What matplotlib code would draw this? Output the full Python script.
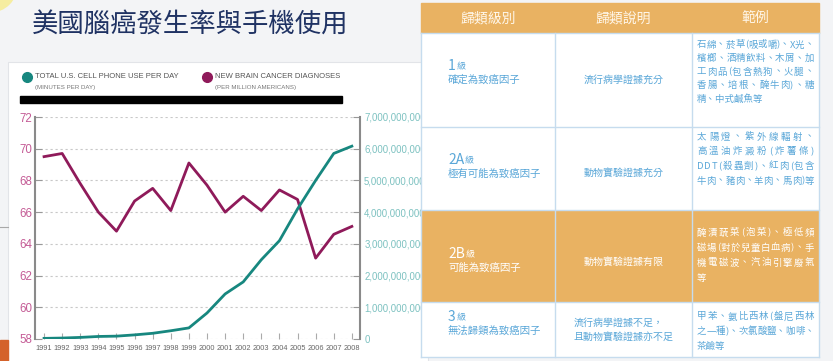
import matplotlib
matplotlib.use('Agg')
import matplotlib.pyplot as plt
from matplotlib.patches import Rectangle, Circle

CJK = ['Noto Sans CJK TC', 'DejaVu Sans']
NARROW = ['Liberation Sans Narrow', 'Liberation Sans', 'DejaVu Sans']
plt.rcParams['font.family'] = CJK

# =============================================================================
# data
# =============================================================================
title = '美國腦癌發生率與手機使用'
years = list(range(1991, 2009))
brain_cancer = [69.5, 69.7, 67.8, 66.0, 64.8, 66.7, 67.5, 66.1, 69.1, 67.7,
                66.0, 67.0, 66.1, 67.4, 66.8, 63.1, 64.6, 65.1]
phone_use = [0.02e9, 0.03e9, 0.05e9, 0.08e9, 0.09e9, 0.13e9, 0.18e9, 0.26e9, 0.35e9,
             0.82e9, 1.42e9, 1.80e9, 2.50e9, 3.10e9, 4.10e9, 5.00e9, 5.85e9, 6.08e9]
left_ticks = [58, 60, 62, 64, 66, 68, 70, 72]
right_ticks = [0, 1000000000, 2000000000, 3000000000, 4000000000,
               5000000000, 6000000000, 7000000000]
legend_titles = ['TOTAL U.S. CELL PHONE USE PER DAY', 'NEW BRAIN CANCER DIAGNOSES']
legend_units = ['(MINUTES PER DAY)', '(PER MILLION AMERICANS)']

headers = ['歸類級別', '歸類說明', '範例']
levels = ['1', '2A', '2B', '3']
level_names = ['確定為致癌因子', '極有可能為致癌因子', '可能為致癌因子', '無法歸類為致癌因子']
evidence = ['流行病學證據充分', '動物實驗證據充分', '動物實驗證據有限',
            '流行病學證據不足，\n且動物實驗證據亦不足']
examples = [
    ['石綿、菸草(吸或嚼)、X光、', '檳榔、酒精飲料、木屑、加', '工肉品(包含熱狗、火腿、',
     '香腸、培根、醃牛肉)、糖', '精、中式鹹魚等'],
    ['太陽燈、紫外線輻射、', '高溫油炸澱粉(炸薯條)', 'DDT(殺蟲劑)、紅肉(包含',
     '牛肉、豬肉、羊肉、馬肉)等'],
    ['醃漬蔬菜(泡菜)、極低頻', '磁場(對於兒童白血病)、手', '機電磁波、汽油引擎廢氣', '等'],
    ['甲苯、氨比西林(盤尼西林', '之一種)、次氯酸鹽、咖啡、', '茶鹼等'],
]

# =============================================================================
# layout / colours
# =============================================================================
W, H = 833, 361
teal = '#17877f'
magenta = '#8f1a5a'
orange = '#e9b262'
blue_txt = '#5aa7d8'
line_blue = '#c6dcee'

col_x = [421, 555, 692, 819]
row_y = [3, 33, 127, 210, 302, 357]
num_y = [66, 160, 254, 317]
name_y = [80, 174, 268, 331]
ev_y = [80, 173, 262, 330]
ex_y0 = [45, 137, 233, 317]
ex_gap = [13.5, 14.7, 15, 14.5]

fig = plt.figure(figsize=(W / 100, H / 100), dpi=100, facecolor='#f3f4f6')
renderer = fig.canvas.get_renderer()


def px_axes(x0, y0, x1, y1, **kw):
    return fig.add_axes([x0 / W, 1 - y1 / H, (x1 - x0) / W, (y1 - y0) / H], **kw)


def pixel_layer(z):
    a = fig.add_axes([0, 0, 1, 1])
    a.set_xlim(0, W)
    a.set_ylim(H, 0)
    a.axis('off')
    a.set_zorder(z)
    return a


def justified(a, x0, x1, y, s, **kw):
    texts = [a.text(0, y, ch, va='center', **kw) for ch in s]
    widths = [t.get_window_extent(renderer).width for t in texts]
    gap = (x1 - x0 - sum(widths)) / max(len(s) - 1, 1)
    x = x0
    for t, w in zip(texts, widths):
        t.set_x(x)
        x += w + gap


# =============================================================================
# background slide
# =============================================================================
bg = pixel_layer(-1)
bg.add_patch(Circle((-10, -15), 27, color='#f6eda0'))
bg.add_patch(Rectangle((8, 62), 420, 300, facecolor='white', edgecolor='#e2e4e8', lw=0.8))
bg.add_patch(Rectangle((0, 340), 8, 21, color='#d4622a'))
bg.plot([0, 8], [227, 227], color='#a8a8a8', lw=0.8)
bg.text(32, 25, title, fontsize=19, color='#1f3263', va='center', fontweight='medium')

for i, (cx, col) in enumerate([(27, teal), (207, magenta)]):
    bg.plot(cx, 77, 'o', ms=7, color=col)
    bg.text(cx + 8, 76, legend_titles[i], fontsize=5.5, color='#555555',
            family=NARROW, va='center')
    bg.text(cx + 8, 88, legend_units[i], fontsize=4.4, color='#777777',
            family=NARROW, va='center')
bg.add_patch(Rectangle((20, 96), 322, 7, color='black'))

# =============================================================================
# line chart
# =============================================================================
ax = px_axes(35, 117, 360, 339)
ax.set_facecolor('none')
ax.plot(years, brain_cancer, color=magenta, lw=2, zorder=3)
ax.set_xlim(1990.5, 2008.45)
ax.set_ylim(58, 72)
ax.set_yticks(left_ticks, labels=[str(v) for v in left_ticks], fontsize=8.3,
              family=NARROW, color='#c45b95')
ax.set_xticks(years, labels=[str(y) for y in years], fontsize=5.3,
              family=NARROW, color='#666666')
ax.tick_params(axis='y', direction='in', length=5, color='#999999', pad=2)
ax.tick_params(axis='x', direction='in', length=4, color='#aaaaaa', pad=4)
ax.yaxis.grid(True, linestyle=(0, (2, 2.5)), color='#c8c8c8', lw=0.8)
for s in ['top', 'bottom', 'right']:
    ax.spines[s].set_visible(False)
ax.spines['left'].set_color('#8a8a8a')
ax.spines['left'].set_linewidth(1.5)

ax2 = ax.twinx()
ax2.set_facecolor('none')
ax2.plot(years, phone_use, color=teal, lw=2, zorder=3)
ax2.set_ylim(0, 7e9)
ax2.set_yticks(right_ticks, labels=[f'{v:,}' for v in right_ticks], fontsize=6.9,
               family=NARROW, color='#7cc1c0')
ax2.tick_params(axis='y', direction='in', length=5, color='#999999', pad=3)
for s in ['top', 'bottom', 'left']:
    ax2.spines[s].set_visible(False)
ax2.spines['right'].set_color('#8a8a8a')
ax2.spines['right'].set_linewidth(1.5)

# =============================================================================
# table
# =============================================================================
fg = pixel_layer(10)
fg.add_patch(Rectangle((col_x[0], row_y[0]), col_x[-1] - col_x[0], row_y[1] - row_y[0],
                       color=orange))
for i in range(len(levels)):
    fc = orange if i == 2 else 'white'
    fg.add_patch(Rectangle((col_x[0], row_y[i + 1]), col_x[-1] - col_x[0],
                           row_y[i + 2] - row_y[i + 1], facecolor=fc, edgecolor='none'))
for x in col_x:
    fg.plot([x, x], [row_y[1], row_y[-1]], color=line_blue, lw=1)
for y in row_y[1:]:
    fg.plot([col_x[0], col_x[-1]], [y, y], color=line_blue, lw=1)

for j, h in enumerate(headers):
    fg.text((col_x[j] + col_x[j + 1]) / 2, 18, h, fontsize=10, color='#fff7ea',
            ha='center', va='center')

for i in range(len(levels)):
    c = 'white' if i == 2 else blue_txt
    t = fg.text(448, num_y[i], levels[i], fontsize=10, color=c, va='center')
    x1 = t.get_window_extent(renderer).x1
    fg.text(x1 + 0.5, num_y[i] + 1, '級', fontsize=6.5, color=c, va='center')
    fg.text(448, name_y[i], level_names[i], fontsize=7.5, color=c, va='center')
    fg.text((col_x[1] + col_x[2]) / 2, ev_y[i], evidence[i], fontsize=7.2, color=c,
            ha='center', va='center', multialignment='left', linespacing=1.55)
    lines = examples[i]
    for k, s in enumerate(lines):
        y = ex_y0[i] + k * ex_gap[i]
        if k < len(lines) - 1 or len(s) > 10:
            justified(fg, 697, 814, y, s, fontsize=6.8, color=c)
        else:
            fg.text(697, y, s, fontsize=6.8, color=c, va='center')

fig.savefig('out.png', dpi=100, facecolor=fig.get_facecolor())
